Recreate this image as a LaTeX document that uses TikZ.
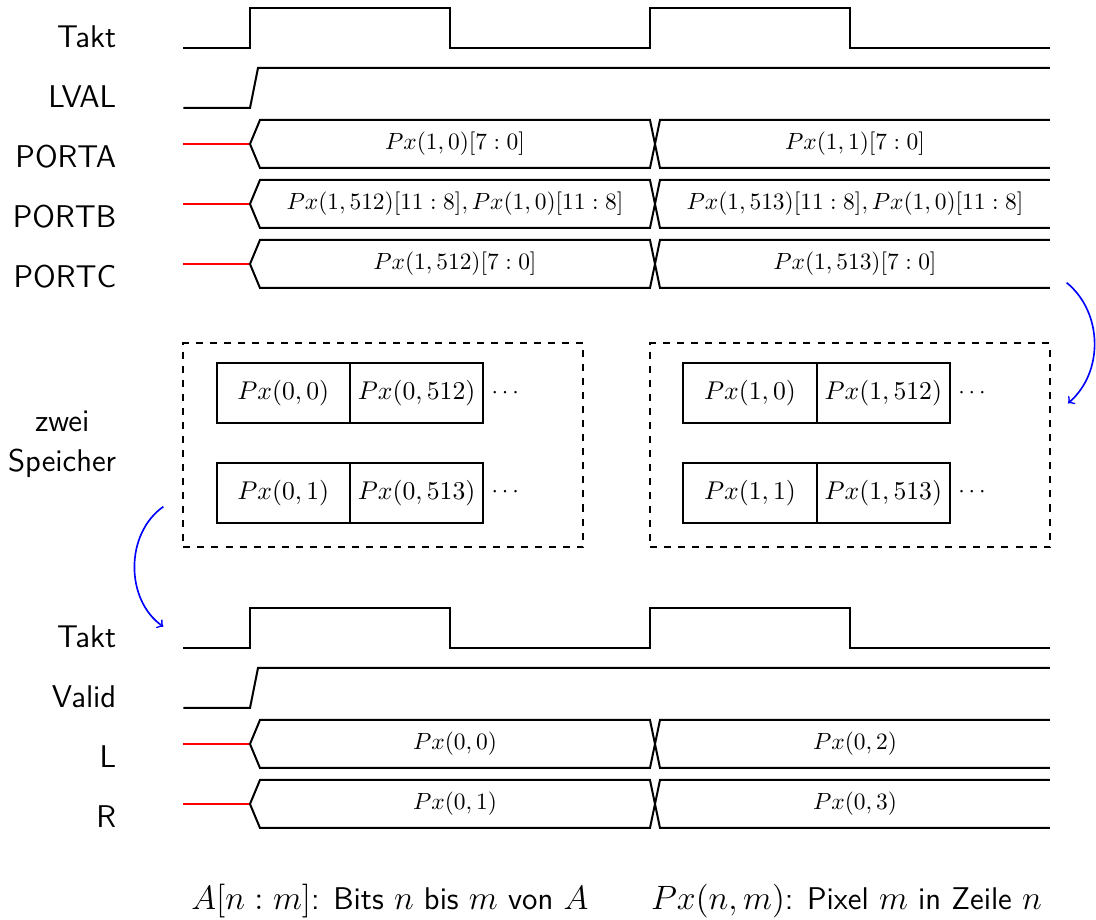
\documentclass[tikz,border=0pt]{standalone}
\usepackage{amsmath,amssymb}
\usepackage{tikz}
\usetikzlibrary{positioning}

\tikzset{
  sig/.style={line width=0.3mm},
  hiz/.style={line width=0.3mm, red},
  lbl/.style={anchor=base east, inner sep=0pt, font=\sffamily\fontsize{13.4}{17}\selectfont},
  data/.style={font=\fontsize{10.4}{12}\selectfont},
  cell/.style={draw, line width=0.3mm, minimum width=2cm, minimum height=0.9cm, outer sep=0pt, inner sep=0pt, font=\fontsize{11}{13}\selectfont},
  speicher/.style={draw, dashed, line width=0.3mm, minimum width=6cm, minimum height=3.06cm},
  pfeil/.style={->, blue, line width=0.7pt}
}

% bus row: #1 baseline, #2 name, #3 left data, #4 right data
\newcommand{\busrow}[4]{%
  \draw[hiz] (-1,#1+0.36) -- (0,#1+0.36);
  \draw[sig] (0,#1+0.36) -- (0.15,#1+0.72) -- (6,#1+0.72) -- (6.15,#1) -- (12,#1);
  \draw[sig] (0,#1+0.36) -- (0.15,#1) -- (6,#1) -- (6.15,#1+0.72) -- (12,#1+0.72);
  \node[data] (#2a) at (3.075,#1+0.36) {$#3$};
  \node[data] (#2b) at (9.075,#1+0.36) {$#4$};
}

\begin{document}
\begin{tikzpicture}
\useasboundingbox (-3.75,0.72) rectangle (12.69,-13.08);

% input side
\node[lbl] (lTakt) at (-2,0) {Takt};
\node[lbl] (lLVAL) at (-2,-0.9) {LVAL};
\node[lbl] (lPORTA) at (-2,-1.8) {PORTA};
\node[lbl] (lPORTB) at (-2,-2.7) {PORTB};
\node[lbl] (lPORTC) at (-2,-3.6) {PORTC};

\draw[sig] (-1,0) -- (0,0) -- (0,0.6) -- (3,0.6) -- (3,0) -- (6,0) -- (6,0.6) -- (9,0.6) -- (9,0) -- (12,0);
\draw[sig] (-1,-0.9) -- (0,-0.9) -- (0.12,-0.3) -- (12,-0.3);
\busrow{-1.8}{porta}{Px(1,0)[7:0]}{Px(1,1)[7:0]}
\busrow{-2.7}{portb}{Px(1,512)[11:8], Px(1,0)[11:8]}{Px(1,513)[11:8], Px(1,0)[11:8]}
\busrow{-3.6}{portc}{Px(1,512)[7:0]}{Px(1,513)[7:0]}

% memories
\node[lbl, anchor=east, align=center] (lSpeicher) at (-2,-5.95) {zwei\\Speicher};
\node[speicher] (speicherL) at (2,-5.96) {};
\node[speicher] (speicherR) at (9,-5.96) {};

\node[cell] (c00) at (0.5,-5.18) {$Px(0,0)$};
\node[cell, right=0pt of c00] (c0512) {$Px(0,512)$};
\node[right=0pt of c0512] (d0a) {$\cdots$};
\node[cell] (c01) at (0.5,-6.67) {$Px(0,1)$};
\node[cell, right=0pt of c01] (c0513) {$Px(0,513)$};
\node[right=0pt of c0513] (d0b) {$\cdots$};

\node[cell] (c10) at (7.5,-5.18) {$Px(1,0)$};
\node[cell, right=0pt of c10] (c1512) {$Px(1,512)$};
\node[right=0pt of c1512] (d1a) {$\cdots$};
\node[cell] (c11) at (7.5,-6.67) {$Px(1,1)$};
\node[cell, right=0pt of c11] (c1513) {$Px(1,513)$};
\node[right=0pt of c1513] (d1b) {$\cdots$};

\coordinate (portcEnde) at (12.25,-3.52);
\coordinate (speicherEin) at (12.27,-5.33);
\draw[pfeil] (portcEnde) to[bend left=50] (speicherEin);
\coordinate (speicherAus) at (-1.3,-6.88);
\coordinate (taktEin) at (-1.3,-8.68);
\draw[pfeil] (speicherAus) to[bend right=55] (taktEin);

% output side
\node[lbl] (lTaktB) at (-2,-9) {Takt};
\node[lbl] (lValid) at (-2,-9.9) {Valid};
\node[lbl] (lL) at (-2,-10.8) {L};
\node[lbl] (lR) at (-2,-11.7) {R};

\draw[sig] (-1,-9) -- (0,-9) -- (0,-8.4) -- (3,-8.4) -- (3,-9) -- (6,-9) -- (6,-8.4) -- (9,-8.4) -- (9,-9) -- (12,-9);
\draw[sig] (-1,-9.9) -- (0,-9.9) -- (0.12,-9.3) -- (12,-9.3);
\busrow{-10.8}{l}{Px(0,0)}{Px(0,2)}
\busrow{-11.7}{r}{Px(0,1)}{Px(0,3)}

\node[font=\sffamily\fontsize{13.4}{17}\selectfont] (legende) at (5.5,-12.8)
  {$A[n:m]$: Bits $n$ bis $m$ von $A$\qquad $Px(n,m)$: Pixel $m$ in Zeile $n$};

\end{tikzpicture}
\end{document}
